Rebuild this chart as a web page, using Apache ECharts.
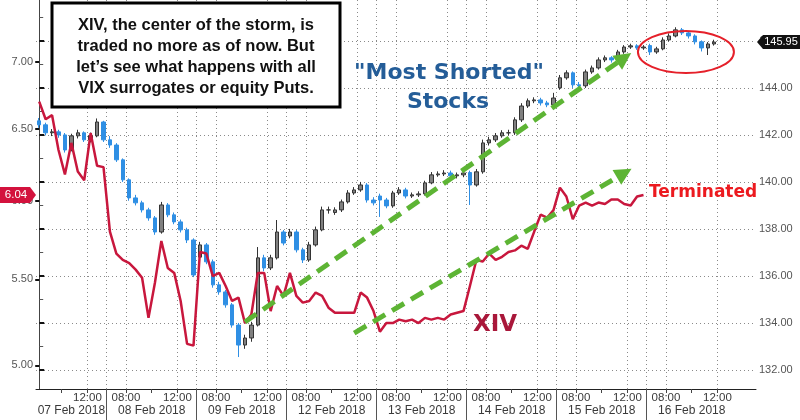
<!DOCTYPE html>
<html><head><meta charset="utf-8">
<script src="https://cdn.jsdelivr.net/npm/echarts@6/dist/echarts.min.js"></script>
<style>html,body{margin:0;padding:0;background:#fff}#c{width:800px;height:420px}</style>
</head><body><div id="c"></div>
<script>
// ---------- data ----------
const days = ['07 Feb 2018','08 Feb 2018','09 Feb 2018','12 Feb 2018','13 Feb 2018','14 Feb 2018','15 Feb 2018','16 Feb 2018'];
const slots = ['06:30','07:00','07:30','08:00','08:30','09:00','09:30','10:00','10:30','11:00','11:30','12:00','12:30','13:00'];
const firstDayFirstSlot = '08:00';
const padBars = 3;
const timeTickLabels = ['08:00','12:00'];
const minorTickTimes = ['10:00'];

const xivValues = [6.70,6.57,6.60,6.35,6.18,6.40,6.20,6.14,6.47,6.24,
6.23,5.80,5.66,5.62,5.60,5.56,5.51,5.27,5.48,5.74,
5.57,5.54,5.37,5.12,5.11,5.67,5.66,5.52,5.54,5.46,
5.37,5.39,5.24,5.29,5.54,5.54,5.31,5.46,5.40,5.54,
5.40,5.36,5.37,5.42,5.40,5.33,5.30,5.30,5.30,5.30,
5.42,5.39,5.31,5.19,5.24,5.24,5.26,5.25,5.26,5.24,
5.27,5.26,5.27,5.26,5.29,5.30,5.31,5.46,5.62,5.61,
5.66,5.62,5.64,5.67,5.68,5.71,5.69,5.80,5.91,5.89,
5.94,6.09,6.03,5.88,5.97,5.99,5.97,5.99,5.98,6.01,
6.01,5.98,5.97,6.03,6.04];

const stockOpen = [142.60,142.43,142.09,142.13,142.00,141.36,141.96,142.09,141.79,141.96,
142.55,141.79,141.57,140.94,140.09,139.32,139.11,138.81,138.47,137.87,
139.02,138.60,138.30,137.96,137.53,136.80,137.32,136.60,135.62,135.32,
134.77,133.91,133.06,133.36,133.91,136.77,136.34,136.77,137.87,137.70,
137.87,137.11,136.68,137.32,137.96,138.81,138.70,138.81,139.15,139.53,
139.66,139.87,139.23,139.40,139.23,138.98,139.53,139.66,139.40,139.45,
139.49,139.96,140.30,140.34,140.38,140.26,140.30,140.40,139.87,140.43,
141.66,141.79,141.96,142.09,142.09,142.64,143.23,143.45,143.49,143.36,
143.28,144.00,144.43,144.64,144.13,144.09,144.68,144.85,145.19,145.28,
145.19,145.53,145.74,145.79,145.70,145.80,145.53,145.66,146.04,146.21,
146.47,146.34,146.21,145.96,145.70,145.87];
const stockClose = [142.43,142.09,142.13,142.00,141.36,141.96,142.09,141.79,141.96,142.55,
141.79,141.57,140.94,140.09,139.32,139.11,138.81,138.47,137.87,139.02,
138.60,138.30,137.96,137.53,136.04,137.32,136.60,135.62,135.32,134.77,
133.91,133.06,133.36,133.91,136.77,136.34,136.77,137.87,137.40,137.87,
137.11,136.68,137.32,137.96,138.81,138.81,138.81,139.15,139.53,139.66,
139.87,139.23,139.11,139.23,138.98,139.53,139.66,139.40,139.45,139.49,
139.96,140.30,140.34,140.38,140.26,140.30,140.38,139.87,140.43,141.66,
141.79,141.96,142.09,142.09,142.64,143.23,143.45,143.49,143.36,143.28,
143.57,144.43,144.64,144.13,144.09,144.68,144.85,145.19,145.28,145.19,
145.53,145.74,145.79,145.70,145.74,145.53,145.66,146.04,146.21,146.47,
146.34,146.21,145.96,145.70,145.87,145.95];
const stockLow = [142.30,141.98,141.95,141.88,141.25,141.30,141.85,141.70,141.68,141.90,
141.70,141.45,140.85,140.00,139.20,139.00,138.70,138.35,137.75,137.80,
138.50,138.20,137.85,137.40,135.95,136.70,136.50,135.50,135.20,134.65,
133.80,132.55,132.90,133.20,133.85,136.20,136.25,136.70,137.30,137.60,
137.00,136.55,136.60,137.25,137.90,138.65,138.60,138.72,139.08,139.45,
139.58,139.12,139.00,138.51,138.88,138.90,139.45,139.30,139.32,139.36,
139.42,139.90,140.22,140.25,140.15,140.15,140.20,139.02,139.80,140.35,
141.55,141.70,141.88,141.98,142.00,142.55,143.15,143.35,143.25,143.18,
143.20,143.92,144.35,144.00,143.90,144.00,144.60,144.78,145.10,145.08,
145.12,145.45,145.66,145.62,145.62,145.40,145.45,145.60,145.98,146.15,
146.25,146.10,145.85,145.55,145.40,145.80];
const stockHigh = [142.72,142.52,142.25,142.22,142.08,142.05,142.22,142.15,142.10,142.70,
142.60,141.95,141.65,141.00,140.15,139.45,139.20,138.90,138.55,139.15,
139.10,138.70,138.40,138.05,137.60,137.45,137.40,136.70,135.75,135.40,
134.85,134.00,133.50,134.05,137.23,136.90,136.90,138.38,137.95,138.00,
137.95,137.20,137.45,138.10,138.95,138.95,138.92,139.25,139.65,139.78,
140.00,139.95,139.35,139.50,139.32,139.62,139.78,139.75,139.55,139.60,
140.05,140.42,140.45,140.50,140.48,140.40,140.48,140.48,140.55,141.80,
141.92,142.08,142.20,142.22,142.75,143.35,143.55,143.60,143.58,143.45,
143.79,144.55,144.75,144.70,144.25,144.78,144.95,145.30,145.38,145.35,
145.62,145.82,145.88,145.86,145.82,145.88,145.75,146.15,146.32,146.58,
146.55,146.42,146.28,146.02,145.95,146.05];

const leftTicks = [5.00, 5.50, 6.00, 6.50, 7.00];
const rightTicks = [132, 134, 136, 138, 140, 142, 144, 146];
const rightMinorTicks = [133, 135, 137, 139, 141, 143, 145, 147];
const xivLast = 6.04;
const stockLast = 145.95;

const boxLines = ["XIV, the center of the storm, is", "traded no more as of now. But", "let\u2019s see what happens with all", "VIX surrogates or equity Puts."];
const titleLines = ['"Most Shorted"', 'Stocks'];
const xivLabel = 'XIV';
const terminatedLabel = 'Terminated';

// annotation anchors in data space: [barIndex, stockValue]
const arrowAnnotations = [[32, 134.04, 91, 145.28], [49, 133.57, 91, 140.38]];
const ellipseAnchor = [100.6, 145.53];

// ---------- build axis helpers ----------
const categories = [];
const dayStart = [];
days.forEach((d, di) => {
  const s0 = di === 0 ? slots.indexOf(firstDayFirstSlot) : 0;
  dayStart.push(categories.length - s0);
  for (let s = s0; s < slots.length; s++) categories.push(d + ' ' + slots[s]);
});
for (let p = 0; p < padBars; p++) categories.push('pad' + p);
const N = categories.length;

const timeLabelMap = {};
const timePos = [];
dayStart.forEach(ds => timeTickLabels.forEach(t => {
  const p = ds + slots.indexOf(t) - 0.5;
  if (p > -0.5 && p < N - 0.5) { timePos.push(p); timeLabelMap[p.toFixed(1)] = t; }
}));
const minorPos = [];
dayStart.forEach(ds => minorTickTimes.forEach(t => {
  const p = ds + slots.indexOf(t) - 0.5;
  if (p > -0.5) minorPos.push(p);
}));
const sepPos = dayStart.slice(1).map(ds => ds - 0.5);
const dayLabelMap = {};
const dayCenters = dayStart.map((ds, i) => {
  const a = Math.max(ds - 0.5, -0.5), b = ds + slots.length - 0.5;
  const c = (a + b) / 2; dayLabelMap[c.toFixed(1)] = days[i]; return c;
});

const FONT = 'Liberation Sans';
const dotted = { type: [1, 3], color: '#8a8a8a', width: 1 };
const valueX = (extra) => Object.assign({
  type: 'value', min: -0.5, max: N - 0.5, position: 'bottom',
  axisLine: { show: false }, splitLine: { show: false }, axisLabel: { show: false }
}, extra);

const candleData = stockOpen.map((o, i) => [o, stockClose[i], stockLow[i], stockHigh[i]]);

const option = {
  animation: false,
  backgroundColor: '#fff',
  textStyle: { fontFamily: FONT },
  grid: { left: 36, right: 44, top: 0, bottom: 31, containLabel: false, outerBoundsMode: 'none' },
  xAxis: [
    { type: 'category', data: categories, show: false, boundaryGap: true },
    valueX({
      axisLine: { show: true, lineStyle: { color: '#222', width: 1 } },
      axisTick: { show: true, customValues: timePos, length: 4, lineStyle: { color: '#444' } },
      axisLabel: { show: true, customValues: timePos, formatter: v => timeLabelMap[v.toFixed(1)] || '',
        margin: 3, fontSize: 11.5, color: '#3a3a3a', fontFamily: FONT },
      splitLine: { show: true, lineStyle: dotted }
    }),
    valueX({
      axisTick: { show: true, customValues: sepPos, length: 31, lineStyle: { color: '#555' } },
      axisLabel: { show: true, customValues: dayCenters, formatter: v => dayLabelMap[v.toFixed(1)] || '',
        margin: 16, fontSize: 12, color: '#3a3a3a', fontFamily: FONT },
      splitLine: { show: true, lineStyle: dotted }
    }),
    valueX({
      axisTick: { show: true, customValues: minorPos, length: 4, lineStyle: { color: '#444' } }
    })
  ],
  yAxis: [
    { type: 'log', logBase: 10, min: 4.87, max: 7.5, position: 'left',
      axisLine: { show: true, lineStyle: { color: '#222' } },
      axisTick: { show: true, customValues: leftTicks, length: 4, lineStyle: { color: '#111', width: 2 } },
      axisLabel: { show: true, customValues: leftTicks, formatter: v => Number(v).toFixed(2),
        margin: 3, fontSize: 11, color: '#555', fontFamily: FONT },
      splitLine: { show: false },
      name: 'Log', nameLocation: 'middle', nameRotate: 90, nameGap: 22,
      nameTextStyle: { color: '#b0b0b0', fontSize: 17, fontFamily: FONT }
    },
    { type: 'value', min: 131.19, max: 147.74, position: 'right',
      axisLine: { show: true, lineStyle: { color: '#444' } },
      axisTick: { show: true, customValues: rightTicks, length: 5, lineStyle: { color: '#111', width: 2 } },
      axisLabel: { show: true, customValues: rightTicks, formatter: v => Number(v).toFixed(2),
        margin: 3, fontSize: 11, color: '#555', fontFamily: FONT },
      splitLine: { show: true, lineStyle: dotted }
    },
    { type: 'value', min: 131.19, max: 147.74, position: 'right',
      axisLine: { show: false },
      axisTick: { show: true, customValues: rightMinorTicks, length: 4, lineStyle: { color: '#555' } },
      axisLabel: { show: false }, splitLine: { show: false }
    }
  ],
  series: [
    { type: 'candlestick', name: 'Most Shorted', xAxisIndex: 0, yAxisIndex: 1, z: 2,
      data: candleData, barWidth: 4,
      itemStyle: { color: '#808080', color0: '#2f8fe4', borderColor: '#333', borderColor0: '#2f8fe4', borderWidth: 1 },
      markLine: {
        silent: true, animation: false,
        symbol: ['none', 'triangle'], symbolSize: [17, 17],
        label: { show: false },
        lineStyle: { color: '#5db434', width: 5, type: [14, 8], opacity: 1 },
        emphasis: { disabled: true },
        data: arrowAnnotations.map(a => [{ coord: [a[0], a[1]] }, { coord: [a[2], a[3]] }])
      }
    },
    { type: 'line', name: 'XIV', xAxisIndex: 0, yAxisIndex: 0, z: 3,
      data: xivValues, symbol: 'none', showSymbol: false,
      lineStyle: { color: '#c8173d', width: 2.5 }
    }
  ]
};

const chart = echarts.init(document.getElementById('c'), null, { renderer: 'canvas' });
chart.setOption(option);

const yL = chart.convertToPixel({ yAxisIndex: 0 }, xivLast);
const yR = chart.convertToPixel({ yAxisIndex: 1 }, stockLast);
const ell = chart.convertToPixel({ xAxisIndex: 1, yAxisIndex: 1 }, ellipseAnchor);

chart.setOption({
  graphic: [
    { type: 'rect', z: 100, shape: { x: 52, y: 3, width: 288, height: 104 },
      style: { fill: '#fff', stroke: '#000', lineWidth: 3 } },
    { type: 'text', z: 101, x: 196, y: 15,
      style: { text: boxLines.join('\n'), align: 'center', verticalAlign: 'top',
        font: 'bold 16.5px "Liberation Sans"', fill: '#111', lineHeight: 21 } },
    { type: 'text', z: 101, x: 449, y: 73,
      style: { text: titleLines[0], align: 'center', verticalAlign: 'middle',
        font: 'bold 22px "DejaVu Sans"', fill: '#245d98' } },
    { type: 'text', z: 101, x: 448, y: 102,
      style: { text: titleLines[1], align: 'center', verticalAlign: 'middle',
        font: 'bold 22px "DejaVu Sans"', fill: '#245d98' } },
    { type: 'text', z: 101, x: 495, y: 325,
      style: { text: xivLabel, align: 'center', verticalAlign: 'middle',
        font: 'bold 23px "DejaVu Sans"', fill: '#a9173a' } },
    { type: 'text', z: 101, x: 649, y: 193,
      style: { text: terminatedLabel, align: 'left', verticalAlign: 'middle',
        font: 'bold 17px "DejaVu Sans"', fill: '#ec1a1f' } },
    { type: 'ellipse', z: 101, shape: { cx: ell[0], cy: ell[1], rx: 48, ry: 21 },
      style: { fill: 'none', stroke: '#e5202a', lineWidth: 2 } },
    { type: 'polygon', z: 102, shape: { points: [[0, yL - 8], [30, yL - 8], [36, yL], [30, yL + 8], [0, yL + 8]] },
      style: { fill: '#d3123d' } },
    { type: 'text', z: 103, x: 16, y: yL,
      style: { text: xivLast.toFixed(2), align: 'center', verticalAlign: 'middle',
        font: '11.5px "Liberation Sans"', fill: '#fff' } },
    { type: 'polygon', z: 102, shape: { points: [[757, yR], [763, yR - 7], [800, yR - 7], [800, yR + 7], [763, yR + 7]] },
      style: { fill: '#111' } },
    { type: 'text', z: 103, x: 781, y: yR,
      style: { text: stockLast.toFixed(2), align: 'center', verticalAlign: 'middle',
        font: '11px "Liberation Sans"', fill: '#fff' } }
  ]
});
</script>
</body></html>
